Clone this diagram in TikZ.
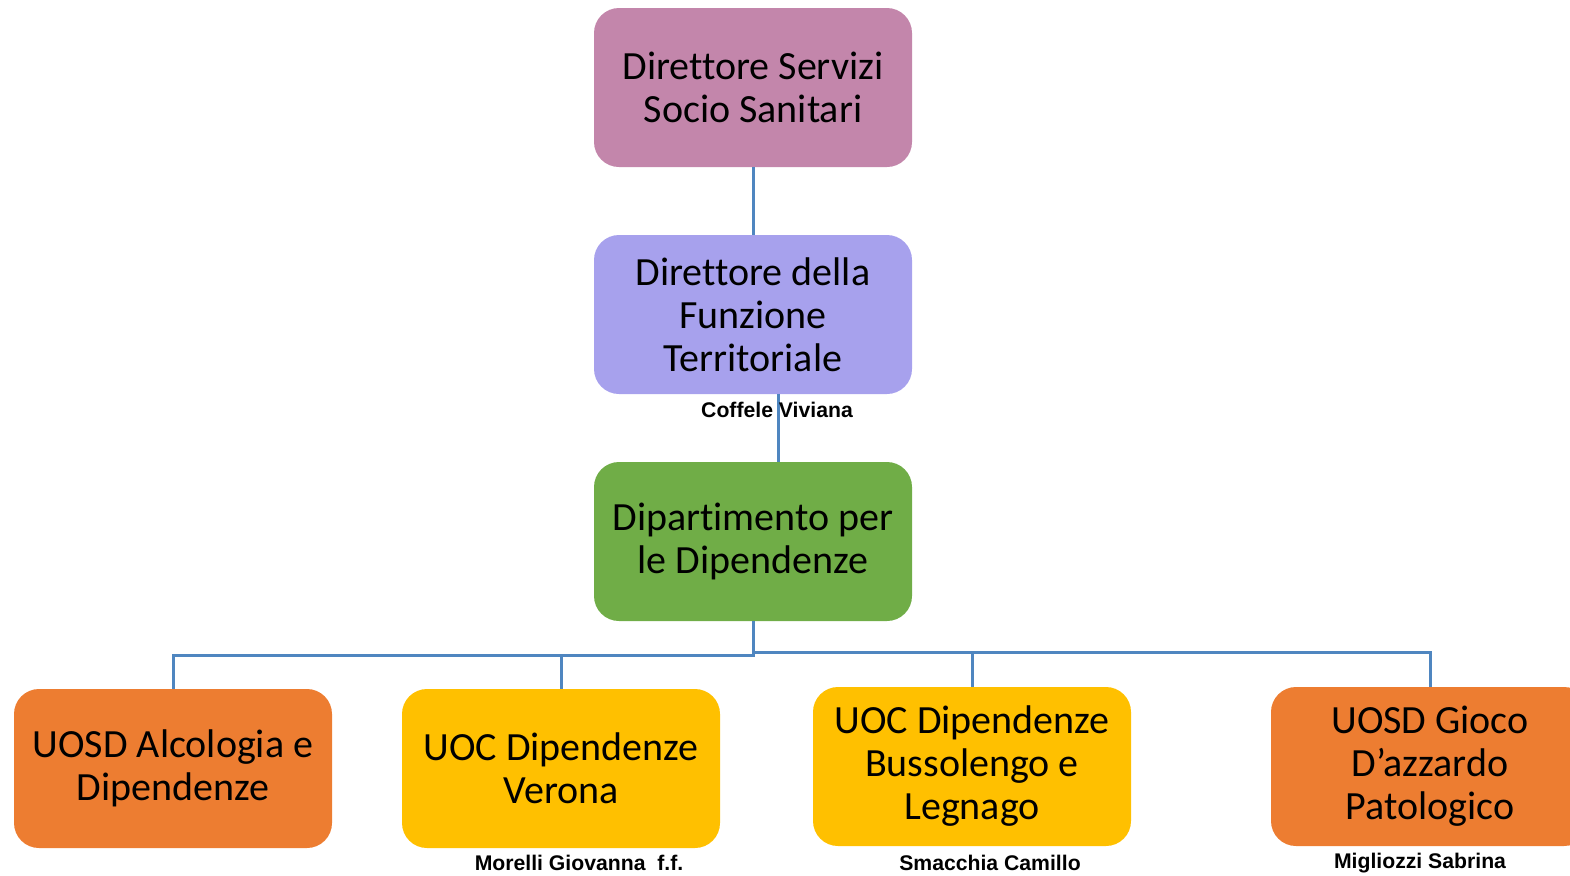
\documentclass[tikz,border=0pt]{standalone}
\usepackage{fontspec}
\setmainfont{Carlito}[Ligatures=NoCommon]
\newfontfamily\arialfont{Liberation Sans}
\usetikzlibrary{positioning}
\definecolor{boxpink}{RGB}{195,134,171}
\definecolor{boxlav}{RGB}{167,161,237}
\definecolor{boxgreen}{RGB}{112,173,71}
\definecolor{boxorange}{RGB}{237,125,49}
\definecolor{boxyellow}{RGB}{255,192,0}
\definecolor{lineblue}{RGB}{79,134,192}

\begin{document}
\begin{tikzpicture}[x=0.5pt,y=-0.5pt,
	box/.style={rounded corners=12.5pt, minimum width=159pt, minimum height=79.5pt, align=center, font=\fontsize{20}{21.5}\selectfont},
	conn/.style={draw=lineblue, line width=1.5pt},
	who/.style={font=\arialfont\bfseries\fontsize{10.6}{12}\selectfont}]
	\clip (0,0) rectangle (1570,875);
	%\draw[help lines] (0,0) grid[step=50] (1570,875);
	
	\node[box, fill=boxpink] (dss) at (753,87.5) {Direttore Servizi\\Socio Sanitari};
	\node[box, fill=boxlav] (dft) at (753,314.5) {Direttore della\\Funzione\\Territoriale};
	\node[box, fill=boxgreen] (dip) at (753,541.5) {Dipartimento per\\le Dipendenze};
	
	\node[box, fill=boxorange] (alc) at (173,768.5) {UOSD Alcologia e\\Dipendenze};
	\node[box, fill=boxyellow] (ver) at (561,768.5) {UOC Dipendenze\\Verona};
	\node[box, fill=boxyellow] (bus) at (972,766.5) {UOC Dipendenze\\Bussolengo e\\Legnago};
	\node[box, fill=boxorange] (gap) at (1430,766.5) {UOSD Gioco\\D’azzardo\\Patologico};
	
	\coordinate (bl) at (753,655);
	\coordinate (br) at (753,652);
	
	\draw[conn] (dss) -- (dft);
	\draw[conn] ([xshift=12.5pt]dft.south) -- ([xshift=12.5pt]dip.north);
	\draw[conn] (dip.south) -- (bl) -| (alc.north);
	\draw[conn] (bl) -| (ver.north);
	\draw[conn] (dip.south) -- (br) -| (bus.north);
	\draw[conn] (br) -| (gap.north);
	
	\node[who] (cof) at (777,410) {Coffele Viviana};
	\node[who] (mor) at (579,863) {Morelli Giovanna\ \ f.f.};
	\node[who] (sma) at (990,863) {Smacchia Camillo};
	\node[who] (mig) at (1420,863) {Migliozzi Sabrina};
\end{tikzpicture}
\end{document}
